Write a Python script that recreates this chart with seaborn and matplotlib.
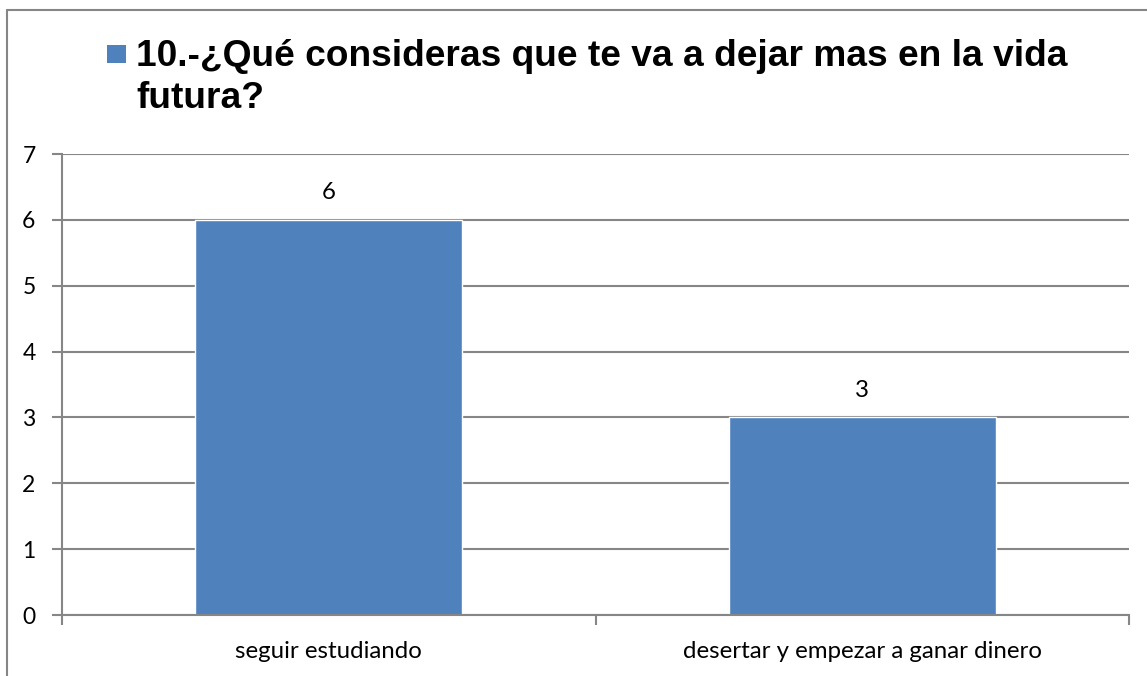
import matplotlib
matplotlib.use("Agg")
import matplotlib.pyplot as plt
import seaborn as sns
import pandas as pd
from matplotlib.patches import Rectangle
from matplotlib.lines import Line2D

categories = ["seguir estudiando", "desertar y empezar a ganar dinero"]
values = [6, 3]
title = "10.-¿Qué consideras que te va a dejar mas en la vida\nfutura?"
yticks = [0, 1, 2, 3, 4, 5, 6, 7]

BLUE = "#4F81BD"
GRID = "#868686"

sns.set_theme(style="white")
plt.rcParams["font.family"] = ["Lato", "DejaVu Sans"]

df = pd.DataFrame({"cat": categories, "val": values})

fig = plt.figure(figsize=(11.47, 6.76), dpi=100)
ax = fig.add_axes([62 / 1147, 1 - 615 / 676, (1129 - 62) / 1147, (615 - 154) / 676])

sns.barplot(data=df, x="cat", y="val", color=BLUE, saturation=1, width=0.5, ax=ax)
ax.set_xlim(-0.5, 1.5)
ax.set_ylim(0, 7)
ax.set_yticks(yticks)
ax.set_xlabel("")
ax.set_ylabel("")

for s in ["top", "right"]:
    ax.spines[s].set_visible(False)
for s in ["left", "bottom"]:
    ax.spines[s].set_color(GRID)
    ax.spines[s].set_linewidth(1.5)

ax.yaxis.grid(True, color=GRID, linewidth=1.5)
ax.set_axisbelow(True)
ax.tick_params(axis="y", length=7, width=1.5, color=GRID, left=True, pad=12,
               labelsize=16.5, labelcolor="black")
# x ticks sit on the category boundaries, labels drawn separately
ax.set_xticks([-0.5, 0.5, 1.5])
ax.set_xticklabels(["", "", ""])
ax.tick_params(axis="x", length=7, width=1.5, color=GRID, bottom=True)
for i, c in enumerate(categories):
    ax.annotate(c, xy=(i, 0), xytext=(0, -37), textcoords="offset pixels",
                ha="center", va="center", fontsize=17.3, color="black")

for i, v in enumerate(values):
    ax.annotate(f"{v}", xy=(i, v), xytext=(0, 27), textcoords="offset pixels",
                ha="center", va="center", fontsize=17.3, color="black")

# title drawn like a legend entry
fig.patches.append(Rectangle((107 / 1147, 1 - 63 / 676), 19 / 1147, 18 / 676,
                             transform=fig.transFigure, facecolor=BLUE, edgecolor="none"))
fig.text(136 / 1147, 1 - 108 / 676, title, ha="left", va="baseline", fontsize=26.7,
         fontweight="bold", color="black", family=["Liberation Sans", "DejaVu Sans"],
         linespacing=1.25)

# chart border (only top and left fall inside the image)
fig.add_artist(Line2D([7 / 1147, 7 / 1147], [0, 1 - 10 / 676], transform=fig.transFigure,
                      color=GRID, linewidth=1.5))
fig.add_artist(Line2D([7 / 1147, 1], [1 - 10 / 676, 1 - 10 / 676], transform=fig.transFigure,
                      color=GRID, linewidth=1.5))

fig.savefig("out.png", dpi=100)
